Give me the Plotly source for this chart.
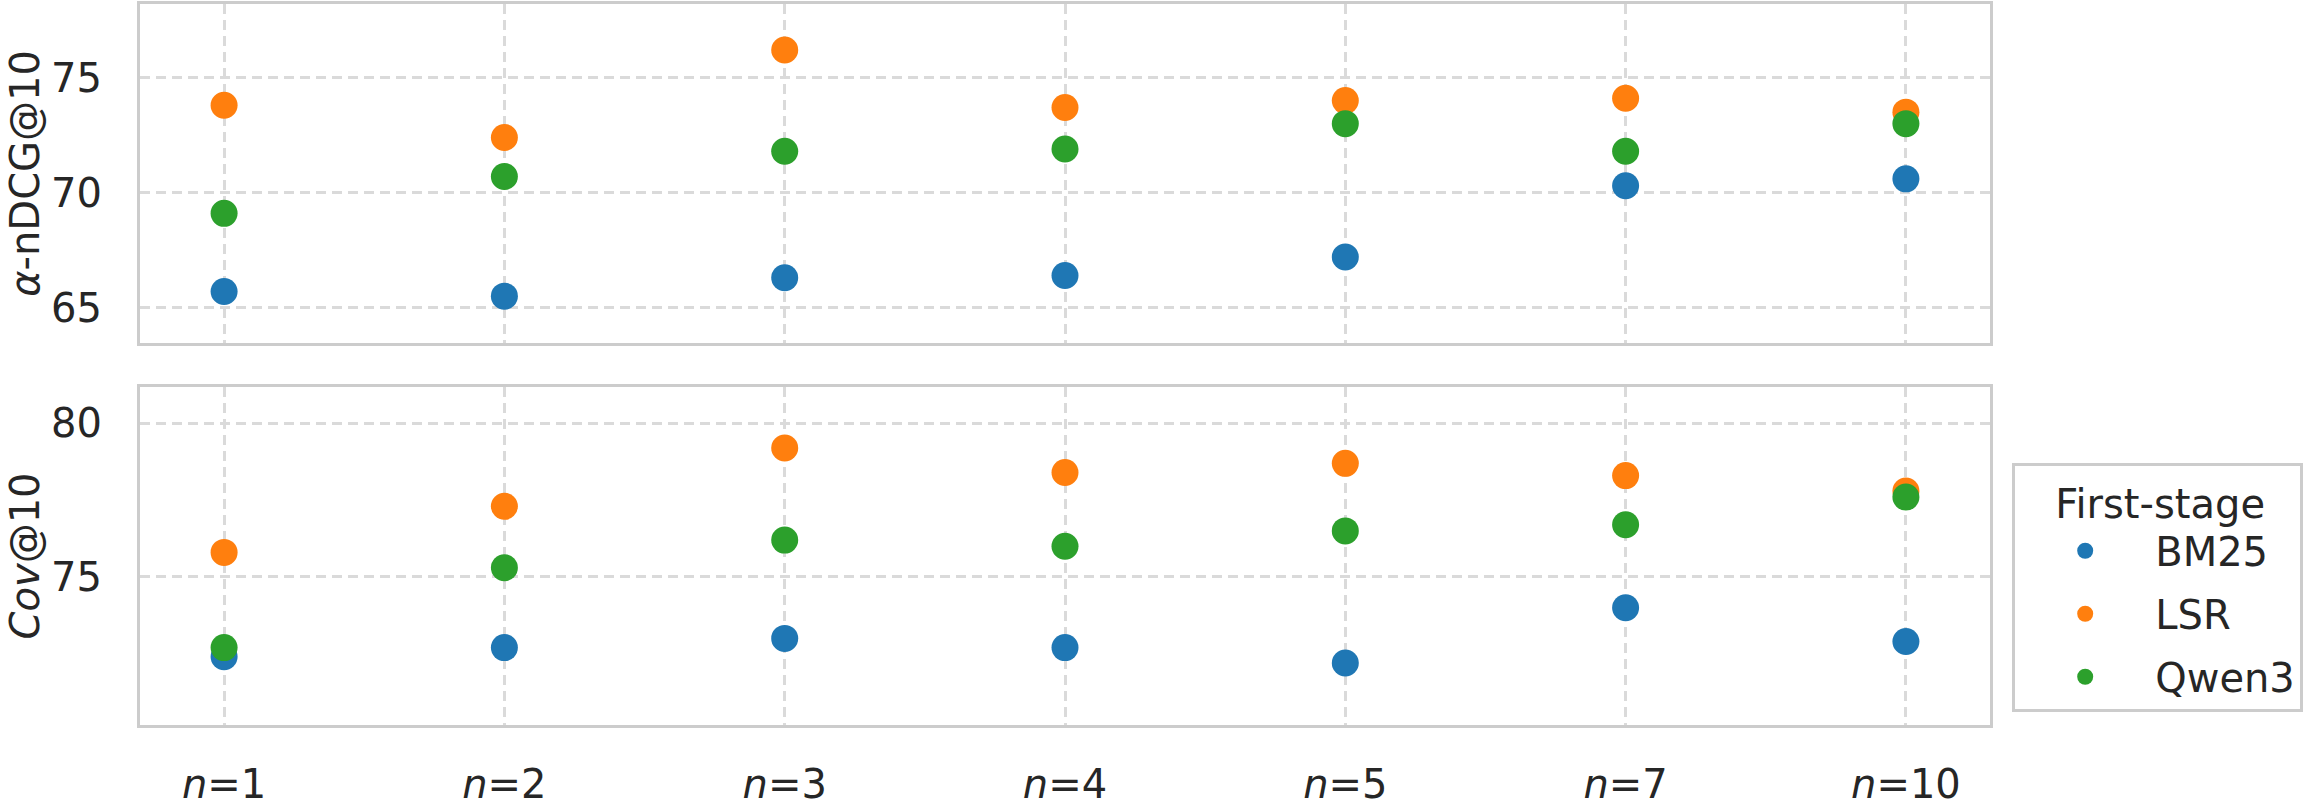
import plotly.graph_objects as go
from plotly.subplots import make_subplots

# ---------------- data ----------------
n_values = ["1", "2", "3", "4", "5", "7", "10"]
tick_labels = ["<i>n</i>=1", "<i>n</i>=2", "<i>n</i>=3", "<i>n</i>=4",
               "<i>n</i>=5", "<i>n</i>=7", "<i>n</i>=10"]

series_names = ["BM25", "LSR", "Qwen3"]
series_colors = ["#1f77b4", "#ff7f0e", "#2ca02c"]

andcg_bm25 = [65.7, 65.5, 66.3, 66.4, 67.2, 70.3, 70.6]
andcg_lsr = [73.8, 72.4, 76.2, 73.7, 74.0, 74.1, 73.5]
andcg_qwen3 = [69.1, 70.7, 71.8, 71.9, 73.0, 71.8, 73.0]

cov_bm25 = [72.4, 72.7, 73.0, 72.7, 72.2, 74.0, 72.9]
cov_lsr = [75.8, 77.3, 79.2, 78.4, 78.7, 78.3, 77.8]
cov_qwen3 = [72.7, 75.3, 76.2, 76.0, 76.5, 76.7, 77.6]

top_series = [andcg_bm25, andcg_lsr, andcg_qwen3]
bottom_series = [cov_bm25, cov_lsr, cov_qwen3]

FONT = "DejaVu Sans"
TXT = "#262626"
GRID = "#dadada"
SPINE = "#cccccc"

fig = make_subplots(rows=2, cols=1, shared_xaxes=False)

for name, color, vals in zip(series_names, series_colors, top_series):
    fig.add_trace(go.Scatter(x=n_values, y=vals, mode="markers", name=name,
                             legendgroup=name, showlegend=True,
                             marker=dict(color=color, size=27, line=dict(width=0))),
                  row=1, col=1)
for name, color, vals in zip(series_names, series_colors, bottom_series):
    fig.add_trace(go.Scatter(x=n_values, y=vals, mode="markers", name=name,
                             legendgroup=name, showlegend=False,
                             marker=dict(color=color, size=27, line=dict(width=0))),
                  row=2, col=1)

xcommon = dict(type="category", categoryorder="array", categoryarray=n_values,
               range=[-0.3, 6.3], showgrid=True, gridcolor=GRID, gridwidth=2.5,
               griddash="10px,6px", showline=True, linecolor=SPINE, linewidth=3,
               mirror=True, zeroline=False, ticks="")
ycommon = dict(showgrid=True, gridcolor=GRID, gridwidth=2.5, griddash="10px,6px",
               showline=True, linecolor=SPINE, linewidth=3, mirror=True,
               zeroline=False, ticks="outside", ticklen=27, tickcolor="rgba(0,0,0,0)",
               tickwidth=1, dtick=5, tickfont=dict(size=40, color=TXT, family=FONT))

fig.update_layout(
    width=2307, height=808,
    margin=dict(l=140, r=317, t=1, b=70),
    plot_bgcolor="white", paper_bgcolor="white",
    font=dict(family=FONT, size=40, color=TXT),
    xaxis=dict(xcommon, domain=[0, 1], showticklabels=False, matches="x2"),
    xaxis2=dict(xcommon, domain=[0, 1], tickvals=n_values, ticktext=tick_labels,
                tickfont=dict(size=40, color=TXT, family=FONT), ticklabelstandoff=22),
    yaxis=dict(ycommon, domain=[0.530, 1.0], range=[63.47, 78.2], tickvals=[65, 70, 75],
               title=dict(text="<i>α</i>-nDCG@10", font=dict(size=40, color=TXT, family=FONT),
                          standoff=0)),
    yaxis2=dict(ycommon, domain=[0.0, 0.469], range=[70.18, 81.19], tickvals=[75, 80],
                title=dict(text="<i>Cov</i>@10", font=dict(size=40, color=TXT, family=FONT),
                           standoff=0)),
    legend=dict(
        title=dict(text="&nbsp;&nbsp;&nbsp;First-stage", font=dict(size=40, color=TXT, family=FONT)),
        font=dict(size=40, color=TXT, family=FONT),
        x=1.012, xanchor="left", y=0.363, yanchor="top",
        bordercolor=SPINE, borderwidth=3, bgcolor="white",
        itemwidth=130, tracegroupgap=8, itemsizing="trace",
    ),
    showlegend=True,
)

fig.write_html("out.html")
